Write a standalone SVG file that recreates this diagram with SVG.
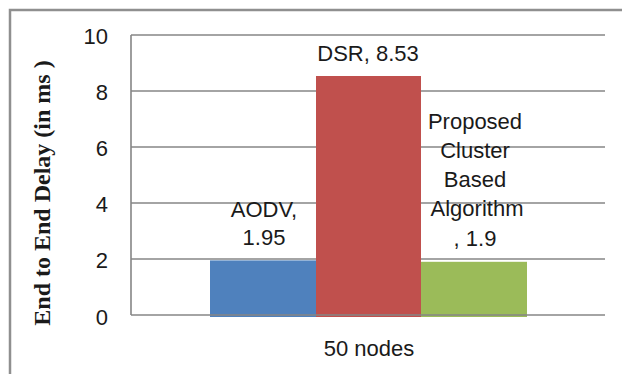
<svg xmlns="http://www.w3.org/2000/svg" width="622" height="374" viewBox="0 0 622 374">
<style>
.frame{stroke:#8f8f8f;stroke-width:2.5;fill:none}
.grid{stroke:#868686;stroke-width:1.6;fill:none}
.t{font-family:"Liberation Sans",Arial,sans-serif;font-size:22px;fill:#1a1a1a}
.tick{text-anchor:end}
.lbl{text-anchor:middle}
.ylab{font-family:"Liberation Serif","Times New Roman",serif;font-weight:bold;font-size:24px;fill:#1a1a1a;text-anchor:middle}
</style>
<rect width="622" height="374" fill="#ffffff"/>
<g id="frame">
<path class="frame" d="M10,374 V10 H622"/>
</g>
<g id="grid">
<path class="grid" d="M131,35 H605 M131,91 H605 M131,147 H605 M131,203 H605 M131,259 H605 M131,35 V315"/>
</g>
<g id="ticks">
<text class="t tick" x="108" y="44">10</text>
<text class="t tick" x="108" y="100">8</text>
<text class="t tick" x="108" y="156">6</text>
<text class="t tick" x="108" y="212">4</text>
<text class="t tick" x="108" y="268">2</text>
<text class="t tick" x="108" y="325">0</text>
</g>
<g id="bar-aodv">
<rect x="210" y="260.4" width="106" height="56.6" fill="#4f81bd"/>
<text class="t lbl" x="264" y="217">AODV,</text>
<text class="t lbl" x="264" y="245">1.95</text>
</g>
<g id="bar-dsr">
<rect x="316" y="76" width="105" height="241" fill="#c0504d"/>
<text class="t lbl" x="368" y="61">DSR, 8.53</text>
</g>
<g id="bar-proposed">
<rect x="421" y="261.8" width="106" height="55.2" fill="#9bbb59"/>
<text class="t lbl" x="475" y="129">Proposed</text>
<text class="t lbl" x="475" y="158">Cluster</text>
<text class="t lbl" x="475" y="187">Based</text>
<text class="t lbl" x="477" y="216">Algorithm</text>
<text class="t lbl" x="475" y="246">, 1.9</text>
</g>
<g id="axis">
<path class="grid" d="M131,315 H605"/>
</g>
<text class="t lbl" x="369" y="356">50 nodes</text>
<text class="ylab" transform="translate(50,193) rotate(-90)">End to End Delay (in ms )</text>
</svg>
